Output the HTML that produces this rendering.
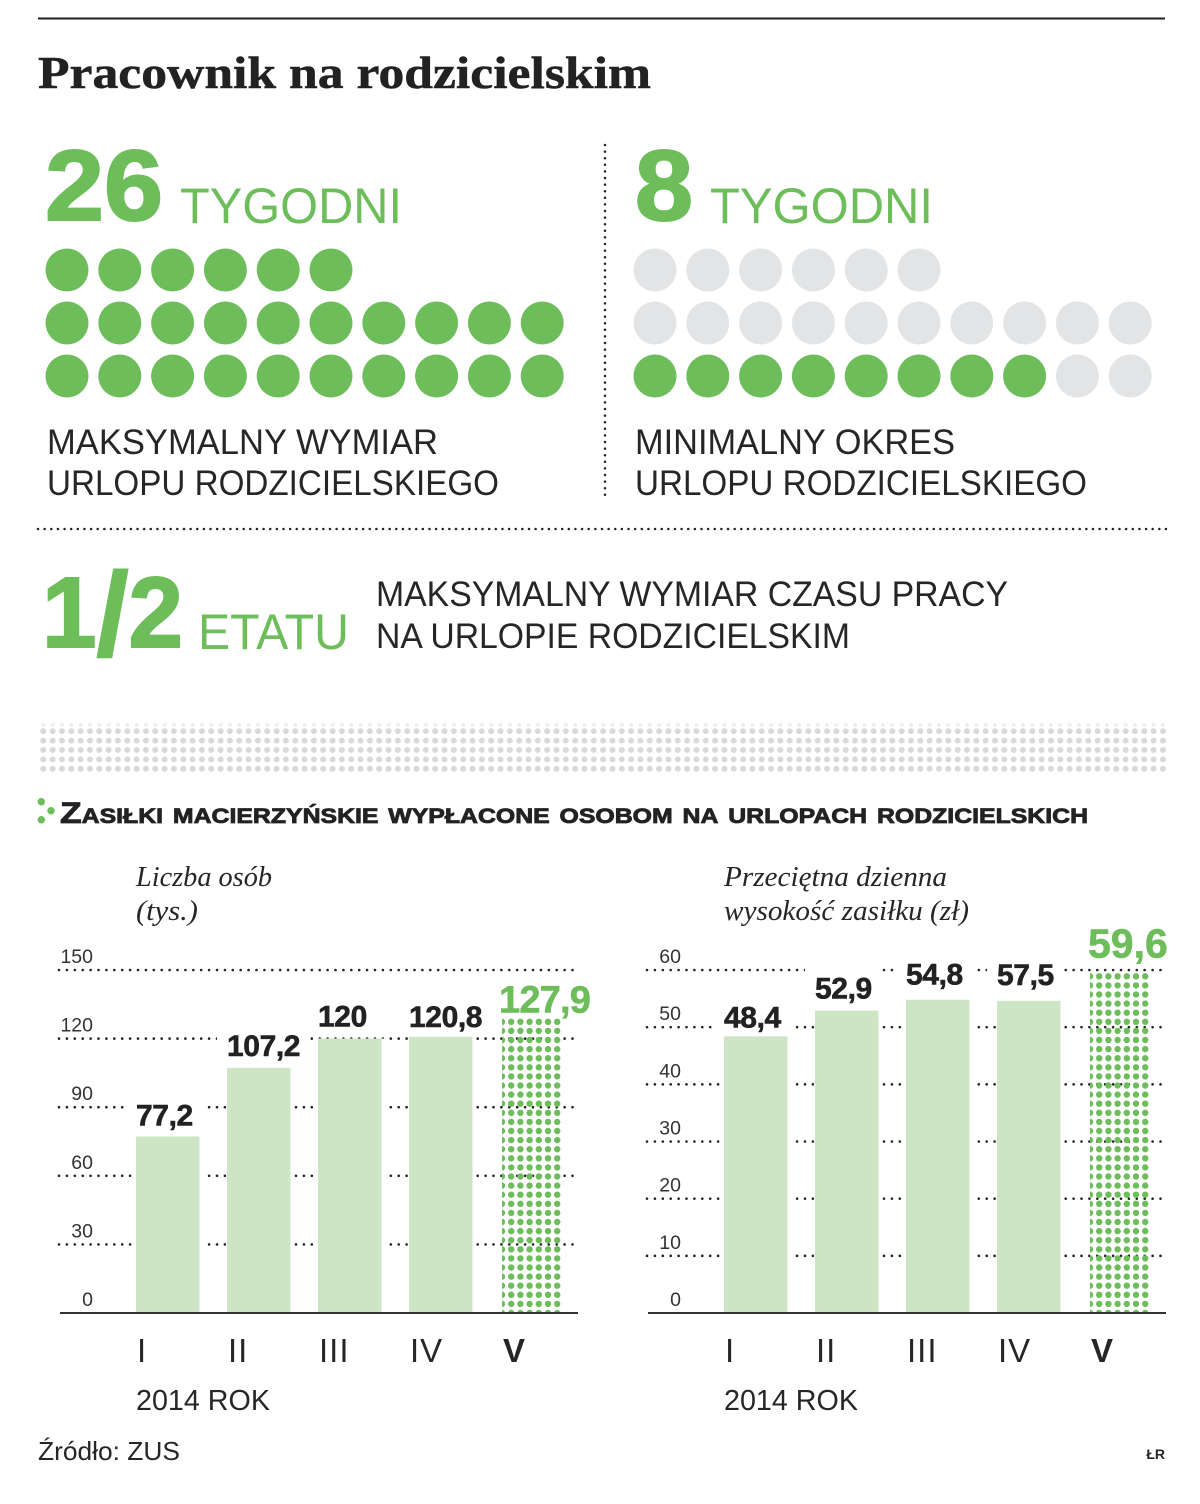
<!DOCTYPE html>
<html lang="pl">
<head>
<meta charset="utf-8">
<title>Pracownik na rodzicielskim</title>
<style>
html,body{margin:0;padding:0;background:#fff;width:1200px;height:1504px;overflow:hidden}
svg{display:block}
text{font-family:"Liberation Sans","Noto Sans CJK SC",sans-serif}
.big{font-weight:700;fill:#6dbe5b;font-size:100px;stroke:#6dbe5b;stroke-width:2}
.unit{fill:#6dbe5b;font-size:50px}
.cap{fill:#262626;font-size:35px}
.serif{font-family:"Liberation Serif",serif}
.sub{font-family:"Liberation Serif",serif;font-style:italic;font-size:28px;fill:#262626}
</style>
</head>
<body>
<svg id="page" xmlns="http://www.w3.org/2000/svg" width="1200" height="1504" viewBox="0 0 1200 1504">
<defs>
<pattern id="greyDots" x="38.7" y="726.5" width="9.33" height="9.4" patternUnits="userSpaceOnUse">
<circle cx="4.6" cy="4.7" r="3" fill="#d8d9d9"/>
</pattern>
</defs>
<rect width="1200" height="1504" fill="#fff"/>
<line x1="38" y1="18.5" x2="1165" y2="18.5" stroke="#222" stroke-width="2"/>
<text class="serif" x="38" y="88" font-size="45" font-weight="700" fill="#222" stroke="#222" stroke-width="0.5" textLength="613" lengthAdjust="spacingAndGlyphs">Pracownik na rodzicielskim</text>

<text class="big" x="45" y="220" textLength="118" lengthAdjust="spacingAndGlyphs">26</text>
<text class="unit" x="180" y="223" textLength="222" lengthAdjust="spacingAndGlyphs">TYGODNI</text>
<text class="big" x="635" y="220" textLength="58" lengthAdjust="spacingAndGlyphs">8</text>
<text class="unit" x="710" y="223" textLength="223" lengthAdjust="spacingAndGlyphs">TYGODNI</text>

<g id="weekDots"></g>

<text class="cap" x="47" y="454" textLength="391" lengthAdjust="spacingAndGlyphs">MAKSYMALNY WYMIAR</text>
<text class="cap" x="47" y="495" textLength="452" lengthAdjust="spacingAndGlyphs">URLOPU RODZICIELSKIEGO</text>
<text class="cap" x="635" y="454" textLength="320" lengthAdjust="spacingAndGlyphs">MINIMALNY OKRES</text>
<text class="cap" x="635" y="495" textLength="452" lengthAdjust="spacingAndGlyphs">URLOPU RODZICIELSKIEGO</text>

<line x1="605" y1="145" x2="605" y2="495" stroke="#222" stroke-width="2.5" stroke-linecap="round" stroke-dasharray="0 6.6"/>
<line x1="38" y1="529" x2="1166" y2="529" stroke="#222" stroke-width="2.5" stroke-linecap="round" stroke-dasharray="0 6.635"/>

<text class="big" x="42" y="647" textLength="141" lengthAdjust="spacingAndGlyphs">1<tspan font-size="118" dy="8">/</tspan><tspan dy="-8">2</tspan></text>
<text class="unit" x="198" y="649" textLength="151" lengthAdjust="spacingAndGlyphs">ETATU</text>
<text class="cap" x="376" y="606" textLength="632" lengthAdjust="spacingAndGlyphs">MAKSYMALNY WYMIAR CZASU PRACY</text>
<text class="cap" x="376" y="648" textLength="474" lengthAdjust="spacingAndGlyphs">NA URLOPIE RODZICIELSKIM</text>

<line x1="43.3" y1="725" x2="1166" y2="725" stroke="#eeeeee" stroke-width="4" stroke-linecap="round" stroke-dasharray="0 9.33"/>
<rect x="38" y="726" width="1128" height="47" fill="url(#greyDots)"/>

<g>
<circle cx="41.3" cy="801.7" r="3.7" fill="#6dbe5b"/>
<circle cx="51" cy="810.7" r="3.7" fill="#6dbe5b"/>
<circle cx="41.3" cy="819.7" r="3.7" fill="#6dbe5b"/>
</g>
<text x="60" y="823" font-size="30" font-weight="700" fill="#222" stroke="#222" stroke-width="0.8" style="font-variant:small-caps" textLength="1028" lengthAdjust="spacingAndGlyphs">Zasiłki macierzyńskie wypłacone osobom na urlopach rodzicielskich</text>

<text class="sub" x="136" y="886" textLength="136" lengthAdjust="spacingAndGlyphs">Liczba osób</text>
<text class="sub" x="136" y="920" textLength="62" lengthAdjust="spacingAndGlyphs">(tys.)</text>
<text class="sub" x="724" y="886" textLength="223" lengthAdjust="spacingAndGlyphs">Przeciętna dzienna</text>
<text class="sub" x="724" y="920" textLength="245" lengthAdjust="spacingAndGlyphs">wysokość zasiłku (zł)</text>

<g id="leftChart"></g>
<g id="rightChart"></g>

<text x="136" y="1410" font-size="29" fill="#262626" textLength="134" lengthAdjust="spacingAndGlyphs">2014 ROK</text>
<text x="724" y="1410" font-size="29" fill="#262626" textLength="134" lengthAdjust="spacingAndGlyphs">2014 ROK</text>
<text x="38" y="1460" font-size="26" fill="#262626" textLength="142" lengthAdjust="spacingAndGlyphs">Źródło: ZUS</text>
<text x="1165" y="1459" font-size="14" font-weight="700" fill="#262626" text-anchor="end">ŁR</text>
</svg>
<script>
var NS = 'http://www.w3.org/2000/svg';

// Week dot rows
var weekRowSizes = [6, 10, 10];
var maxLeaveWeeks = 26;
var minLeaveWeeks = 8;

// Shared chart categories
var categories = ['I', 'II', 'III', 'IV', 'V'];

// Left chart: number of people (thousands)
var leftTicks = [0, 30, 60, 90, 120, 150];
var leftTickLabels = ['0', '30', '60', '90', '120', '150'];
var leftValues = [77.2, 107.2, 120, 120.8, 127.9];
var leftPrinted = ['77,2', '107,2', '120', '120,8', '127,9'];

// Right chart: average daily benefit (PLN); the fourth bar is drawn shorter than its printed label
var rightTicks = [0, 10, 20, 30, 40, 50, 60];
var rightTickLabels = ['0', '10', '20', '30', '40', '50', '60'];
var rightValues = [48.4, 52.9, 54.8, 54.6, 59.6];
var rightPrinted = ['48,4', '52,9', '54,8', '57,5', '59,6'];

function make(tag, attrs, parent) {
  var el = document.createElementNS(NS, tag);
  for (var k in attrs) { el.setAttribute(k, attrs[k]); }
  parent.appendChild(el);
  return el;
}

function drawWeekGroup(parent, originX, filled, prefix) {
  var remaining = filled;
  for (var r = weekRowSizes.length - 1; r >= 0; r--) {
    for (var c = 0; c < weekRowSizes[r]; c++) {
      var on = remaining > 0;
      remaining--;
      var dot = make('circle', {
        cx: originX + c * 52.8,
        cy: 270 + r * 53,
        r: 21.5,
        fill: on ? '#6dbe5b' : '#e3e4e5'
      }, parent);
      
      
    }
  }
}

function drawChart(cfg) {
  var root = document.getElementById(cfg.id);
  var baseY = 1313;
  var topY = 970;
  var yScale = function (v) { return baseY - (v / cfg.max) * (baseY - topY); };
  var xScale = function (i) { return cfg.barStart + i * 91; };
  var barW = 63.5;

  // Gridlines and tick labels
  cfg.ticks.forEach(function (t, i) {
    if (t > 0) {
      var gl = make('line', {
        x1: cfg.gridStart, x2: cfg.gridEnd, y1: yScale(t), y2: yScale(t),
        stroke: '#222', 'stroke-width': 2.6, 'stroke-linecap': 'round', 'stroke-dasharray': '0 7.9'
      }, root);
      
      
    }
    var tl = make('text', {
      x: cfg.tickX, y: yScale(t) - 7, 'text-anchor': 'end', 'font-size': 19.5, fill: '#333'
    }, root);
    tl.textContent = cfg.tickLabels[i];
    
    
  });

  // Bars
  var lastIndex = cfg.values.length - 1;
  cfg.values.forEach(function (v, i) {
    var x = xScale(i);
    var y = yScale(v);
    if (i < lastIndex) {
      var halo = make('rect', { x: x - 1, y: y, width: barW + 4.5, height: baseY - y, fill: '#fff' }, root);
      
      
      var bar = make('rect', { x: x, y: y, width: barW, height: baseY - y, fill: '#cde5c4' }, root);
      
      
    } else {
      var clipId = cfg.id + '-dot-clip';
      var clip = make('clipPath', { id: clipId }, root);
      make('rect', { x: x + 2, y: y - 6, width: barW, height: baseY - y + 6 }, clip);
      var group = make('g', { 'clip-path': 'url(#' + clipId + ')' }, root);
      
      
      for (var cy = baseY; cy >= y + 0.5; cy -= 9.1) {
        for (var c = 0; c < 7; c++) {
          make('circle', { cx: x + 2 + c * 9.2, cy: cy, r: 3.2, fill: '#6dbe5b' }, group);
        }
      }
    }
  });

  // Printed values with white backing
  cfg.printed.forEach(function (p, i) {
    var isLast = i === lastIndex;
    var x = xScale(i) - (isLast ? cfg.lastShift : 0);
    var baseline = yScale(cfg.values[i]) - cfg.labelGap[i];
    var size = isLast ? cfg.lastSize : 30;
    var back = make('rect', {
      x: x - 10, y: baseline - size * 0.72 - 9, width: 10, height: size * 0.72 + 15, fill: '#fff'
    }, root);
    
    
    var label = make('text', {
      x: x, y: baseline, 'font-size': size, 'font-weight': 700,
      fill: isLast ? '#6dbe5b' : '#222', stroke: isLast ? '#6dbe5b' : '#222', 'stroke-width': 0.6,
      'letter-spacing': isLast ? cfg.lastSpacing : -0.4
    }, root);
    label.textContent = p;
    
    
    if (isLast) {
      back.setAttribute('width', 0);
    } else {
      back.setAttribute('width', label.getComputedTextLength() + 20);
    }
  });

  // Baseline axis
  var axis = make('line', {
    x1: cfg.axisStart, x2: cfg.axisEnd, y1: baseY, y2: baseY, stroke: '#333', 'stroke-width': 2
  }, root);
  
  

  // Category labels
  categories.forEach(function (cat, i) {
    var isLast = i === lastIndex;
    var ct = make('text', {
      x: xScale(i) + (isLast ? 3 : 1), y: 1362, 'font-size': 33, 'letter-spacing': isLast ? 0 : 1,
      'font-weight': isLast ? 700 : 400, fill: '#262626'
    }, root);
    ct.textContent = cat;
    
    
  });
}

var weekRoot = document.getElementById('weekDots');
drawWeekGroup(weekRoot, 67, maxLeaveWeeks, 'max');
drawWeekGroup(weekRoot, 655, minLeaveWeeks, 'min');

drawChart({
  id: 'leftChart', max: 150, ticks: leftTicks, tickLabels: leftTickLabels,
  values: leftValues, printed: leftPrinted, barStart: 136,
  gridStart: 59, gridEnd: 575, axisStart: 60, axisEnd: 578, tickX: 93,
  labelGap: [11, 12, 12, 10, 8], lastSize: 38, lastSpacing: -0.8, lastShift: 1
});
drawChart({
  id: 'rightChart', max: 60, ticks: rightTicks, tickLabels: rightTickLabels,
  values: rightValues, printed: rightPrinted, barStart: 724,
  gridStart: 647, gridEnd: 1162, axisStart: 648, axisEnd: 1166, tickX: 681,
  labelGap: [9, 12, 15, 16, 15], lastSize: 41, lastSpacing: 0, lastShift: 0
});
</script>
</body>
</html>
